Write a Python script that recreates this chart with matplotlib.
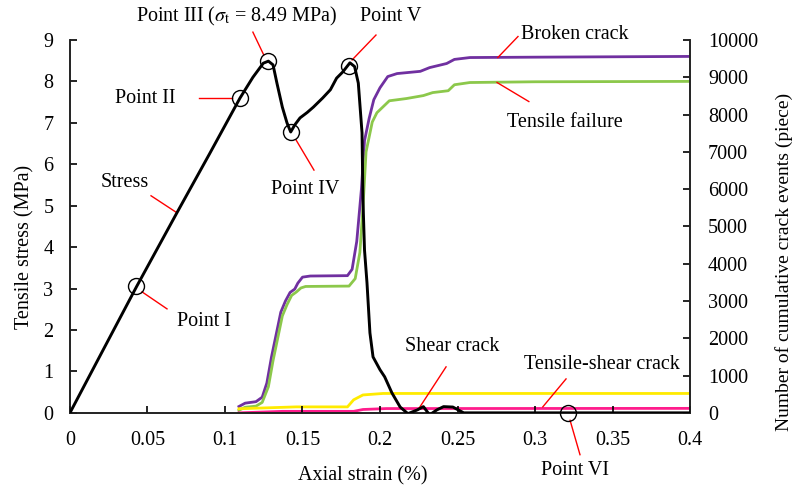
import numpy as np
import matplotlib.pyplot as plt

plt.rcParams['font.family'] = ['Liberation Serif', 'DejaVu Serif']
plt.rcParams['mathtext.fontset'] = 'stix'
plt.rcParams['font.size'] = 14.5

# stress-strain curve
strain = [0, 0.02, 0.043, 0.069, 0.09, 0.1097, 0.118, 0.1247, 0.128, 0.131, 0.1335,
          0.137, 0.14, 0.1424, 0.145, 0.1484, 0.153, 0.157, 0.163, 0.168, 0.172,
          0.176, 0.1806, 0.1836, 0.186, 0.1884, 0.189, 0.19, 0.1916, 0.1935, 0.1955,
          0.2, 0.203, 0.2077, 0.213, 0.218, 0.224, 0.228, 0.232, 0.2366, 0.241,
          0.247, 0.254, 0.4]
stress = [0, 1.42, 3.05, 4.83, 6.25, 7.6, 8.1, 8.44, 8.49, 8.4, 7.96,
          7.38, 7.0, 6.78, 6.95, 7.12, 7.25, 7.38, 7.6, 7.8, 8.08,
          8.23, 8.45, 8.36, 7.96, 6.76, 5.14, 3.93, 3.14, 1.93, 1.35,
          1.04, 0.87, 0.48, 0.14, -0.02, 0.07, 0.15, -0.05, 0.07, 0.15,
          0.14, 0.0, 0.0]

# cumulative crack counts
eps_broken = [0.109, 0.113, 0.12, 0.124, 0.127, 0.13, 0.133, 0.136, 0.139, 0.142,
              0.145, 0.147, 0.15, 0.155, 0.179, 0.182, 0.185, 0.188, 0.19, 0.193,
              0.196, 0.2, 0.205, 0.211, 0.226, 0.232, 0.243, 0.248, 0.258, 0.3, 0.4]
broken = [170, 260, 300, 420, 800, 1500, 2100, 2700, 3000, 3230,
          3320, 3480, 3640, 3670, 3680, 3850, 4600, 6000, 7300, 7900,
          8400, 8720, 9020, 9100, 9160, 9260, 9370, 9480, 9530, 9540, 9560]

eps_tensile = [0.109, 0.113, 0.12, 0.124, 0.128, 0.131, 0.134, 0.137, 0.14, 0.143,
               0.146, 0.149, 0.152, 0.18, 0.184, 0.187, 0.189, 0.191, 0.195, 0.198,
               0.206, 0.217, 0.228, 0.234, 0.244, 0.248, 0.258, 0.3, 0.4]
tensile = [70, 150, 180, 280, 700, 1400, 2000, 2600, 2900, 3150,
           3240, 3350, 3390, 3400, 3600, 4300, 5500, 7000, 7800, 8050,
           8370, 8430, 8510, 8590, 8640, 8800, 8860, 8880, 8890]

eps_shear = [0.109, 0.146, 0.179, 0.183, 0.189, 0.202, 0.4]
shear = [110, 160, 160, 350, 480, 520, 520]

eps_ts = [0.109, 0.137, 0.183, 0.189, 0.204, 0.4]
tens_shear = [0, 40, 40, 90, 115, 120]

# marked points on the stress curve
pt_strain = [0.0426, 0.1097, 0.128, 0.1424, 0.18, 0.321]
pt_stress = [3.07, 7.6, 8.49, 6.78, 8.38, 0.0]

fig, ax = plt.subplots(figsize=(7.95, 4.88), dpi=100)
fig.subplots_adjust(left=0.088, right=0.868, bottom=0.154, top=0.918)
ax2 = ax.twinx()

ax2.plot(eps_broken, broken, color='#7030A0', lw=2.0)
ax2.plot(eps_tensile, tensile, color='#8CC84B', lw=2.0)
ax2.plot(eps_shear, shear, color='#FFEB00', lw=2.0)
ax2.plot(eps_ts, tens_shear, color='#FF1C8C', lw=2.0)

ax.plot(strain, stress, color='black', lw=2.1, zorder=3)
ax.plot(pt_strain, pt_stress, 'o', ms=11.5, mfc='none', mec='black', mew=1.0, zorder=4,
        clip_on=False)
ax.set_zorder(ax2.get_zorder() + 1)
ax.patch.set_visible(False)

ax.set_xlim(0, 0.4)
ax.set_ylim(0, 9)
ax2.set_ylim(0, 10000)
ax.set_xticks(np.arange(0, 0.41, 0.05))
ax.set_xticklabels(['0', '0.05', '0.1', '0.15', '0.2', '0.25', '0.3', '0.35', '0.4'])
ax.set_yticks(range(10))
ax2.set_yticks(range(0, 10001, 1000))

for a in (ax, ax2):
    a.spines['top'].set_visible(False)
    for s in a.spines.values():
        s.set_linewidth(1.2)
        s.set_color('#222222')
ax.tick_params(axis='both', direction='in', length=5, width=1.2)
ax.tick_params(axis='y', pad=12)
ax.tick_params(axis='x', pad=13)
ax2.tick_params(axis='y', direction='in', length=5, width=1.2, pad=13)

ax.set_xlabel('Axial strain (%)')
ax.xaxis.set_label_coords(0.4726, -0.142)
ax.set_ylabel('Tensile stress (MPa)')
ax.yaxis.set_label_coords(-0.058, 0.445)
ax2.set_ylabel('Number of cumulative crack events (piece)', fontsize=14)
ax2.yaxis.set_label_coords(1.137, 0.405)

# callout labels with red leader lines
red = dict(color='red', lw=1.0)


def callout(a, text, xy_text, p0, p1):
    a.plot([p0[0], p1[0]], [p0[1], p1[1]], clip_on=False, **red)
    a.text(xy_text[0], xy_text[1], text, ha='center', va='center', clip_on=False)


callout(ax, 'Stress', (0.0355, 5.55), (0.0523, 5.24), (0.069, 4.83))
callout(ax, 'Point I', (0.0865, 2.2), (0.0465, 2.92), (0.0626, 2.51))
callout(ax, 'Point II', (0.0484, 7.6), (0.0832, 7.6), (0.1045, 7.6))
callout(ax, r'Point III ($\sigma_{\mathrm{t}}$ = 8.49 MPa)', (0.1077, 9.56),
        (0.118, 9.19), (0.125, 8.64))
callout(ax, 'Point IV', (0.1516, 5.38), (0.1458, 6.59), (0.1574, 5.86))
callout(ax, 'Point V', (0.207, 9.56), (0.1974, 9.12), (0.182, 8.52))
callout(ax, 'Point VI', (0.326, -1.38), (0.3226, -0.18), (0.329, -1.01))
callout(ax2, 'Broken crack', (0.3258, 10140), (0.289, 10094), (0.276, 9530))
callout(ax2, 'Tensile failure', (0.319, 7785), (0.2755, 8860), (0.296, 8350))
callout(ax2, 'Shear crack', (0.2465, 1770), (0.2426, 1233), (0.2245, 80))
callout(ax2, 'Tensile-shear crack', (0.343, 1290), (0.32, 910), (0.305, 160))

fig.savefig('out.png', dpi=100)
